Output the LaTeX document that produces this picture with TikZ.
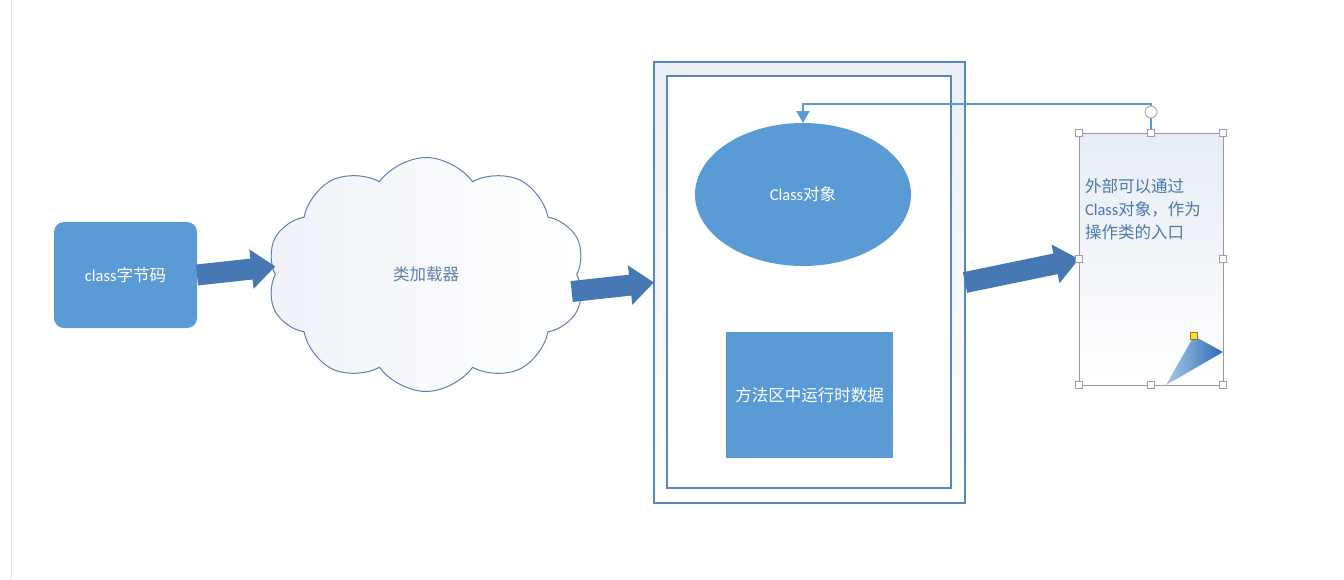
\documentclass[tikz,border=0pt]{standalone}
\usepackage{fontspec}
\setmainfont{Carlito}
\newfontfamily\cjk{Noto Sans CJK SC}
\usepackage{xcolor}
\usepackage{tikz}
\usetikzlibrary{shapes,shapes.symbols,arrows.meta,positioning,calc}
\definecolor{jvmblue}{HTML}{5B9BD5}
\definecolor{jvmarrow}{HTML}{4678B4}
\definecolor{jvmline}{HTML}{5A86C2}
\definecolor{jvmcloud}{HTML}{5F80AC}
\definecolor{jvmtext}{HTML}{4C78B0}
\definecolor{jvmtint}{HTML}{E2E9F4}
\definecolor{jvmfold}{HTML}{2E6CB5}

\begin{document}
\begin{tikzpicture}[x=1pt,y=-1pt,
  every node/.style={inner sep=0pt,outer sep=0pt},
  txt/.style={font=\cjk\fontsize{16.5}{23}\selectfont},
  bluebox/.style={txt,fill=jvmblue,text=white},
  block/.style={jvmarrow,line width=21pt,-{Triangle[length=24pt,width=38pt]}},
  handle/.style={rectangle,draw=gray!75,fill=white,line width=0.6pt,minimum size=7pt}]

  \useasboundingbox (0,0) rectangle (1344,579);
  \draw[gray!25,line width=1pt] (11,0) -- (11,579);

  % source and loader
  \node[bluebox,rounded corners=10pt,minimum width=143pt,minimum height=106pt]
       (code) at (125.5,275) {{\rmfamily class}字节码};
  \node[cloud,cloud puffs=10,cloud puff arc=110,aspect=1.33,draw=jvmcloud,line width=1pt,
        left color=jvmtint!55,right color=white,minimum width=318pt,minimum height=234pt,
        txt,text=jvmcloud] (loader) at (426,274.5) {类加载器};

  % method area
  \node[rectangle,draw=jvmline,line width=1.2pt,top color=jvmtint!70,bottom color=white,
        minimum width=311pt,minimum height=441pt] (area) at (809.5,282.5) {};
  \node[rectangle,draw=jvmline,line width=1.2pt,fill=white,
        minimum width=284pt,minimum height=412pt] (inner) at (809,282) {};
  \node[bluebox,ellipse,minimum width=216pt,minimum height=143pt]
       (cls) at (803,194.5) {{\rmfamily Class}对象};
  \node[bluebox,rectangle,minimum width=167pt,minimum height=126pt]
       (data) at (809.5,395) {方法区中运行时数据};

  % note
  \node[rectangle,draw=gray!80,line width=0.8pt,top color=jvmtint!85,bottom color=white,
        minimum width=144pt,minimum height=252pt] (note) at (1151,259) {};
  \node[txt,text=jvmtext,anchor=north west,align=left]
       (notetxt) at (1085,179) {外部可以通过\\{\rmfamily Class}对象，作为\\操作类的入口};
  \shade[left color=jvmblue!55!white,right color=jvmfold]
       (1166,385) -- (1194,336) -- (1223,352) -- cycle;

  % arrows
  \draw[block] (code.east) -- ([yshift=8pt]loader.west);
  \draw[block] ([xshift=-5pt,yshift=-17pt]loader.east) -- (area.west);
  \draw[block] (area.east) -- (note.west);
  \draw[jvmblue,line width=2pt,-{Triangle[length=12pt,width=13pt]}]
       (note.north) -- ([yshift=29pt]note.north) -| (cls.north);

  % selection handles
  \node[circle,draw=gray!75,fill=white,line width=0.8pt,minimum size=12pt]
       (rot) at ([yshift=21pt]note.north) {};
  \foreach \a/\n in {north west/1,north/2,north east/3,west/4,east/5,
                     south west/6,south/7,south east/8}
    \node[handle] (h\n) at (note.\a) {};
  \node[handle,fill=yellow!60!orange!70,draw=olive] (hy) at (1194,336) {};

\end{tikzpicture}
\end{document}
